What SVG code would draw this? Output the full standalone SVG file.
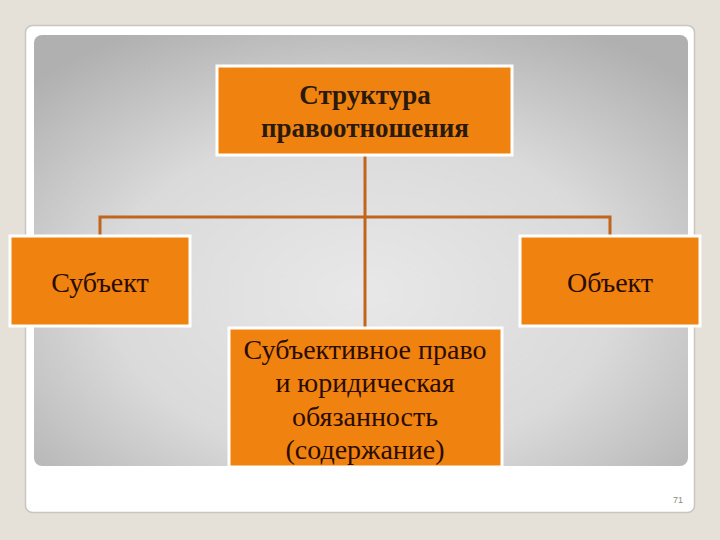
<svg xmlns="http://www.w3.org/2000/svg" width="720" height="540" viewBox="0 0 720 540">
<defs>
<radialGradient id="panel" cx="0.5" cy="0.6" r="0.7">
<stop offset="0" stop-color="#e8e8e8"/>
<stop offset="0.55" stop-color="#dadada"/>
<stop offset="1" stop-color="#b0b0b0"/>
</radialGradient>
<style>
.box{fill:#f0820f;stroke:#ffffff;stroke-width:3}
.conn{stroke:#c0661c;stroke-width:3;fill:none}
.t{font-family:"Liberation Serif","Times New Roman",serif;font-size:28px;fill:#2a0c02;text-anchor:middle}
.tb{font-family:"Liberation Serif","Times New Roman",serif;font-size:27px;font-weight:bold;fill:#2a1a0e;text-anchor:middle}
</style>
</defs>
<rect x="0" y="0" width="720" height="540" fill="#e5e0d8"/>
<rect x="25.5" y="25.5" width="669" height="487" rx="7" fill="#ffffff" stroke="#c9c5bf" stroke-width="1.5"/>
<rect x="34" y="35" width="654" height="431" rx="8" fill="url(#panel)"/>
<g id="connectors">
<line class="conn" x1="365" y1="156" x2="365" y2="328"/>
<polyline class="conn" points="100,235 100,217 610,217 610,235"/>
</g>
<g id="node-structure">
<rect class="box" x="217" y="66" width="295" height="89"/>
<text class="tb" x="365" y="104">Структура</text>
<text class="tb" x="365" y="137">правоотношения</text>
</g>
<g id="node-subject">
<rect class="box" x="10" y="236" width="180" height="90"/>
<text class="t" x="100" y="292">Субъект</text>
</g>
<g id="node-object">
<rect class="box" x="520" y="236" width="180" height="90"/>
<text class="t" x="610" y="292">Объект</text>
</g>
<g id="node-content">
<rect class="box" x="229" y="328" width="273" height="139"/>
<text class="t" x="365" y="359">Субъективное право</text>
<text class="t" x="365" y="392">и юридическая</text>
<text class="t" x="365" y="426">обязанность</text>
<text class="t" x="365" y="459">(содержание)</text>
</g>
<text x="683" y="503" font-family="Liberation Sans, Arial, sans-serif" font-size="9" fill="#8a8a8a" text-anchor="end">71</text>
</svg>
